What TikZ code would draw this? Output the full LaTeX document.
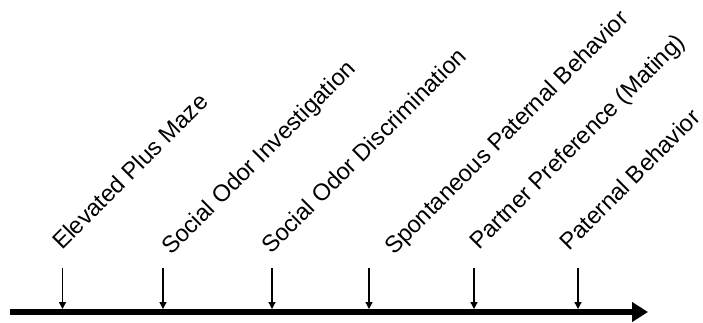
\documentclass[tikz,border=0pt]{standalone}
\usepackage{fontspec}
\setmainfont{Liberation Sans}
\usetikzlibrary{arrows.meta}
\tikzset{
  mainaxis/.style={line width=6pt, -{Triangle[length=16pt,width=19pt]}},
  tick/.style={line width=1.3pt, -{Triangle[length=7pt,width=7pt]}},
  lbl/.style={rotate=45, anchor=base west, inner sep=0pt, font=\fontsize{23.6}{28}\selectfont}
}
\begin{document}
\begin{tikzpicture}[x=1pt,y=-1pt]
\useasboundingbox (0,0) rectangle (703,322);
\coordinate (ms) at (10,312);
\coordinate (me) at (648,312);
\draw[mainaxis] (ms) -- (me);
\foreach \i/\x in {1/62.5,2/163,3/272,4/369,5/474,6/578}{
  \coordinate (t\i) at (\x,268);
  \coordinate (b\i) at (\x,309);
  \draw[tick] (t\i) -- (b\i);
}
\node[lbl] (l1) at (62,251) {Elevated Plus Maze};
\node[lbl] (l2) at (171,256) {Social Odor Investigation};
\node[lbl] (l3) at (271,255) {Social Odor Discrimination};
\node[lbl] (l4) at (394,256) {Spontaneous Paternal Behavior};
\node[lbl] (l5) at (479,251) {Partner Preference (Mating)};
\node[lbl] (l6) at (569,252) {Paternal Behavior};
\end{tikzpicture}
\end{document}
